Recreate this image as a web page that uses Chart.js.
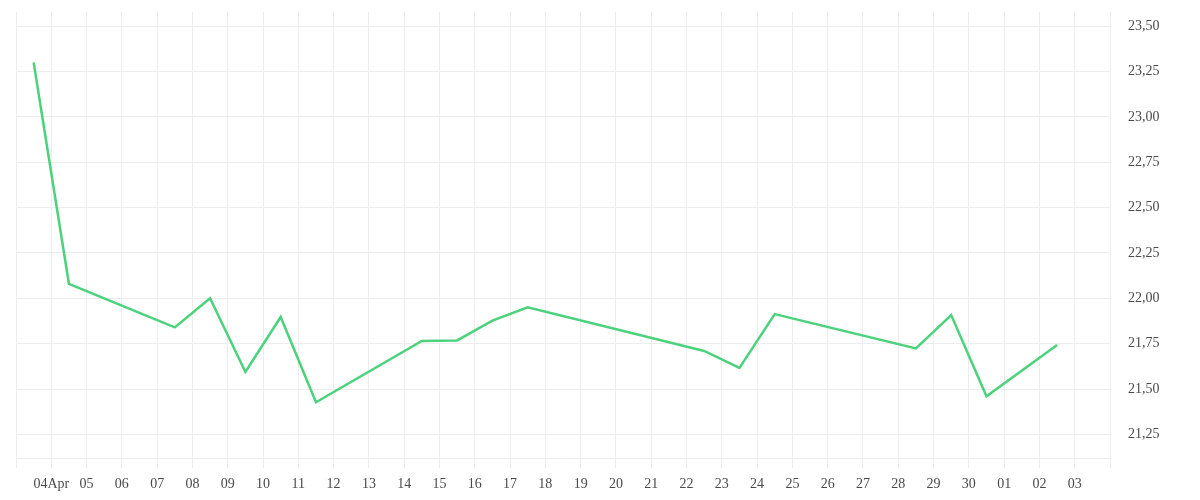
<!DOCTYPE html>
<html>
<head>
<meta charset="utf-8">
<script src="https://cdn.jsdelivr.net/npm/chart.js@4/dist/chart.umd.min.js"></script>
<style>
    html, body { margin: 0; padding: 0; background: #fff; }
    #wrap { width: 1200px; height: 500px; }
</style>
</head>
<body>
<div id="wrap"><canvas id="myChart"></canvas></div>
<script>
// days counted from 03 Apr (0 = 03 Apr), only trading days have a value
const days = [0, 1, 4, 5, 6, 7, 8, 11, 12, 13, 14, 19, 20, 21, 25, 26, 27, 29];
const rates = [23.30, 22.08, 21.84, 22.00, 21.594, 21.897, 21.427, 21.765, 21.768, 21.877,
    21.95, 21.71, 21.617, 21.913, 21.724, 21.908, 21.46, 21.743];

// one label per day boundary, 03 Apr .. 04 May
const xTickLabels = ['', '04Apr', '05', '06', '07', '08', '09', '10', '11', '12', '13', '14',
    '15', '16', '17', '18', '19', '20', '21', '22', '23', '24', '25', '26', '27', '28', '29',
    '30', '01', '02', '03', ''];
const yTicks = [21.25, 21.50, 21.75, 22.00, 22.25, 22.50, 22.75, 23.00, 23.25, 23.50];

const gridColor = '#ededed';
const textColor = '#4a4a4a';
const font = { family: "'Liberation Serif', serif", size: 14 };

const points = days.map((d, i) => ({ x: d + 0.5, y: rates[i] })); // value sits at mid-day

new Chart(document.getElementById('myChart'), {
    type: 'line',
    data: {
        datasets: [{
            data: points,
            borderColor: '#4cd27c',
            borderWidth: 2.5,
            pointRadius: 0,
            tension: 0,
            fill: false,
        }],
    },
    options: {
        animation: false,
        maintainAspectRatio: false,
        layout: { padding: { left: 16, top: 12 } },
        plugins: { legend: false, tooltip: false },
        scales: {
            x: {
                type: 'linear',
                min: 0,
                max: xTickLabels.length - 1,
                afterBuildTicks: (scale) => {
                    scale.ticks = xTickLabels.map((_, i) => ({ value: i }));
                },
                afterFit: (scale) => { scale.height = 42; },
                grid: { color: gridColor, tickLength: 10, drawTicks: true },
                border: { color: gridColor },
                ticks: {
                    autoSkip: false,
                    maxRotation: 0,
                    padding: 8,
                    color: textColor,
                    font: font,
                    callback: (v, i) => xTickLabels[i],
                },
            },
            y: {
                position: 'right',
                min: 21.12,
                max: 23.578,
                afterBuildTicks: (scale) => {
                    scale.ticks = yTicks.map(v => ({ value: v }));
                },
                afterFit: (scale) => { scale.width = 90; },
                // invisible tick marks push the labels away from the plot
                grid: { color: gridColor, drawTicks: true, tickLength: 18, tickColor: 'rgba(0,0,0,0)' },
                border: { color: gridColor },
                ticks: {
                    padding: 0,
                    color: textColor,
                    font: font,
                    callback: (v) => v.toFixed(2).replace('.', ','),
                },
            },
        },
    },
});
</script>
</body>
</html>
